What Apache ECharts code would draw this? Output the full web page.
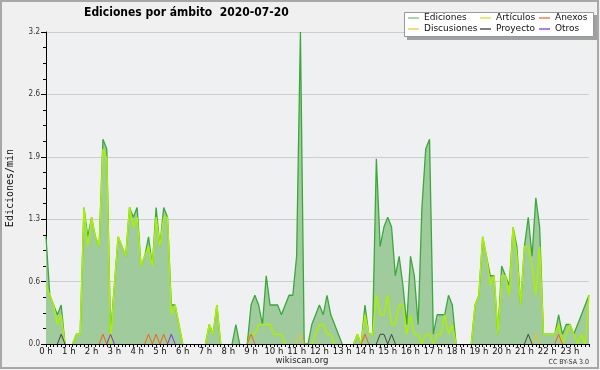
<!DOCTYPE html>
<html>
<head>
<meta charset="utf-8">
<script src="https://cdn.jsdelivr.net/npm/echarts@6/dist/echarts.min.js"></script>
<style>
html,body{margin:0;padding:0;background:#f0f0f0;}
#chart{width:600px;height:370px;}
</style>
</head>
<body>
<div id="chart"></div>
<script>
// ---- data (editions per minute, 10-minute bins, 2020-07-20) ----
const hourLabels = ['0 h','1 h','2 h','3 h','4 h','5 h','6 h','7 h','8 h','9 h','10 h','11 h',
  '12 h','13 h','14 h','15 h','16 h','17 h','18 h','19 h','20 h','21 h','22 h','23 h'];
const minuteLabels = ['00','10','20','30','40','50'];
const yTickLabels = ['0.0','0.6','1.3','1.9','2.6','3.2'];

const ediciones = [
  1.1,0.5,0.4,0.3,0.4,0,   0,0,0.1,0.1,1.4,1.1,   1.3,1.1,1.0,2.1,2.0,0.1,
  0.6,1.1,1.0,0.9,1.4,1.3, 1.4,0.8,0.9,1.1,0.8,1.4, 1.0,1.4,1.3,0.4,0.4,0.2,
  0,0,0,0,0,0,             0,0.2,0.1,0.4,0,0,      0,0,0.2,0,0,0,
  0.4,0.5,0.4,0.2,0.7,0.4, 0.4,0.4,0.3,0.4,0.5,0.5, 0.9,3.2,0,0,0.2,0.3,
  0.4,0.3,0.5,0.3,0.2,0.1, 0,0,0,0,0.1,0,          0.4,0.1,0.1,1.9,1.0,1.2,
  1.3,1.2,0.7,0.9,0.6,0.2, 0.9,0.7,0.2,1.4,2.0,2.1, 0.1,0.3,0.3,0.3,0.5,0.4,
  0,0,0,0,0,0.4,           0.5,1.1,0.9,0.7,0.7,0.1, 0.8,0.7,0.6,1.2,1.0,0.4,
  1.0,1.3,0.9,1.5,1.2,0.1, 0.1,0.1,0.1,0.3,0.1,0.2, 0.2,0.1,0.2,0.3,0.4,0.5
];
const articulos = [
  0.6,0.5,0.4,0.2,0.3,0,   0,0,0.1,0.1,1.4,1.0,   1.3,1.1,1.0,2.0,1.9,0,
  0.6,1.1,1.0,0.9,1.4,1.2, 1.3,0.8,0.9,1.0,0.8,1.3, 1.0,1.3,1.3,0.3,0.4,0.2,
  0,0,0,0,0,0,             0,0.2,0.1,0.4,0,0,      0,0,0,0,0,0,
  0.1,0.1,0.2,0.2,0.2,0.2, 0.1,0.1,0.1,0,0,0,      0,0,0,0,0,0.1,
  0.2,0.2,0.1,0.1,0,0,     0,0,0,0,0.1,0,          0.3,0.1,0.1,0.5,0.3,0.3,
  0.5,0.2,0.2,0.4,0.4,0.1, 0.3,0.1,0.1,0,0.1,0.1,  0,0.1,0.1,0.3,0.1,0.2,
  0,0,0,0,0,0.4,           0.5,1.1,0.9,0.6,0.7,0.1, 0.7,0.7,0.5,1.2,0.9,0.4,
  1.0,1.0,0.8,0.5,1.0,0.1, 0.1,0.1,0.1,0.2,0,0.1,  0.2,0.1,0,0.1,0,0.5
];
const anexos = [
  0,0,0,0,0,0, 0,0,0,0,0,0, 0,0,0,0.1,0,0,
  0,0,0,0,0,0, 0,0,0,0.1,0,0.1, 0,0.1,0,0,0,0,
  0,0,0,0,0,0, 0,0,0,0,0,0, 0,0,0,0,0,0,
  0.1,0,0,0,0,0, 0,0,0,0,0,0, 0,0,0,0,0,0,
  0,0,0,0,0,0, 0,0,0,0,0,0, 0.1,0,0,0,0,0,
  0,0,0,0,0,0, 0,0,0,0,0,0, 0,0,0,0,0,0,
  0,0,0,0,0,0, 0,0,0,0,0,0, 0,0,0,0,0,0,
  0,0,0,0,0,0, 0,0,0,0.1,0,0, 0,0,0,0,0,0
];
const discusiones = [
  0,0,0,0,0,0, 0,0,0,0,0,0, 0,0,0,0,0,0,
  0,0,0,0,0,0, 0,0,0,0,0,0, 0,0,0,0,0,0,
  0,0,0,0,0,0, 0,0,0,0,0,0, 0,0,0,0,0,0,
  0,0,0,0,0,0, 0,0,0,0,0,0, 0,0.1,0,0,0,0,
  0,0,0,0,0,0, 0,0,0,0,0,0, 0,0,0,0,0,0,
  0,0,0,0,0,0, 0,0,0,0,0,0, 0,0,0,0,0,0,
  0,0,0,0,0,0, 0,0,0,0,0,0, 0,0,0,0,0,0,
  0,0,0,0.1,0,0, 0,0,0,0,0,0, 0,0,0,0,0,0
];
const proyecto = [
  0,0,0,0,0.1,0, 0,0,0,0,0,0, 0,0,0,0,0,0,
  0,0,0,0,0,0, 0,0,0,0,0,0, 0,0,0,0,0,0,
  0,0,0,0,0,0, 0,0,0,0,0,0, 0,0,0,0,0,0,
  0,0,0,0,0,0, 0,0,0,0,0,0, 0,0,0,0,0,0,
  0,0,0,0,0,0, 0,0,0,0,0,0, 0,0,0,0,0.1,0.1,
  0,0.1,0,0,0,0, 0,0,0,0,0,0, 0,0,0,0,0,0,
  0,0,0,0,0,0, 0,0,0,0,0,0, 0,0,0,0,0,0,
  0,0.1,0,0,0,0, 0,0,0,0,0,0, 0,0,0,0,0,0
];
const otros = [
  0,0,0,0,0,0, 0,0,0,0,0,0, 0,0,0,0,0,0.1,
  0,0,0,0,0,0, 0,0,0,0,0,0, 0,0,0,0.1,0,0,
  0,0,0,0,0,0, 0,0,0,0,0,0, 0,0,0,0,0,0,
  0,0,0,0,0,0, 0,0,0,0,0,0, 0,0,0,0,0,0,
  0,0,0,0,0,0, 0,0,0,0,0,0, 0,0,0,0,0,0,
  0,0,0,0,0,0, 0,0,0,0,0,0, 0,0,0,0,0,0,
  0,0,0,0,0,0, 0,0,0,0,0,0, 0,0,0,0,0,0,
  0,0,0,0,0,0, 0,0,0,0,0,0, 0,0,0,0,0,0
];

// ---- build ----
const categories = [];
hourLabels.forEach(h => minuteLabels.forEach(m => categories.push(h.replace(' h','') + ':' + m)));

// hide flat runs lying on the baseline (keep the zero ends of each peak)
function trimZeros(arr) {
  return arr.map((v, i) => {
    if (v !== 0) return v;
    const p = i > 0 ? arr[i - 1] : 0, n = i < arr.length - 1 ? arr[i + 1] : 0;
    return (p !== 0 || n !== 0) ? 0 : null;
  });
}

const FONT = "'DejaVu Sans Condensed','DejaVu Sans',sans-serif";
const chart = echarts.init(document.getElementById('chart'), null, {renderer: 'canvas'});

function lineSeries(name, data, color, width, z) {
  return {
    name: name, type: 'line', data: trimZeros(data), symbol: 'none', z: z,
    lineStyle: {color: color, width: width}, itemStyle: {color: color},
    connectNulls: false, animation: false
  };
}

const sE = lineSeries('Ediciones', ediciones, '#3aa83a', 1.3, 2);
sE.areaStyle = {color: '#a0cb9d', opacity: 1};
const series = [
  sE,
  lineSeries('Artículos', articulos, '#aaf000', 1.5, 3),
  lineSeries('Anexos', anexos, '#f06020', 1, 4),
  lineSeries('Discusiones', discusiones, '#f0c020', 1, 4),
  lineSeries('Proyecto', proyecto, '#444444', 1, 4),
  lineSeries('Otros', otros, '#8a2be2', 1, 4)
];

function legend(left, names, colors) {
  return {
    left: left, top: 13, orient: 'vertical', padding: 0, itemGap: 1,
    itemWidth: 11, itemHeight: 1.5, icon: 'rect', selectedMode: false,
    data: names.map((n, i) => ({name: n, itemStyle: {color: colors[i]}})),
    textStyle: {fontFamily: "'DejaVu Sans',sans-serif", fontSize: 9, color: '#111', lineHeight: 10, padding: [0,0,0,0]},
    itemStyle: {borderWidth: 0}, z: 20
  };
}

chart.setOption({
  backgroundColor: '#f0f0f0',
  animation: false,
  title: {
    text: 'Ediciones por ámbito  2020-07-20', left: 84, top: 7, padding: 0,
    textStyle: {fontFamily: FONT, fontSize: 12, fontWeight: 'bold', color: '#000'}
  },
  legend: [
    legend(408, ['Ediciones', 'Discusiones'], ['#88cc88', '#f5d050']),
    legend(480, ['Artículos', 'Proyecto'], ['#c8f040', '#555555']),
    legend(539, ['Anexos', 'Otros'], ['#f08050', '#9050f0'])
  ],
  grid: {left: 46, right: 11, top: 32, bottom: 26, show: true, backgroundColor: '#eff0f2', borderWidth: 0,
         containLabel: false, outerBoundsMode: 'none'},
  xAxis: {
    type: 'category', data: categories, boundaryGap: false, z: 10,
    axisLine: {lineStyle: {color: '#000', width: 1}},
    axisTick: {interval: 0, length: 3, lineStyle: {color: '#000'}},
    axisLabel: {
      interval: function (idx) { return idx % 6 === 0; },
      formatter: function (v, idx) { return hourLabels[Math.floor(idx / 6)]; },
      fontFamily: "'DejaVu Sans',sans-serif", fontSize: 8.5, color: '#111', margin: 3
    },
    splitLine: {show: false}
  },
  yAxis: {
    type: 'value', min: 0, max: 3.2, interval: 0.64,
    name: 'Ediciones/min', nameLocation: 'middle', nameRotate: 90, nameGap: 31,
    nameTextStyle: {fontFamily: "'DejaVu Sans Mono',monospace", fontSize: 10, color: '#111'},
    axisLine: {show: true, lineStyle: {color: '#000', width: 1}},
    axisTick: {show: true, length: 5, lineStyle: {color: '#000'}},
    minorTick: {show: true, splitNumber: 4, length: 3, lineStyle: {color: '#000'}},
    axisLabel: {
      formatter: function (v) { return yTickLabels[Math.round(v / 0.64)]; },
      fontFamily: FONT, fontSize: 8, color: '#333', margin: 6
    },
    splitLine: {show: true, lineStyle: {color: '#cccccc', width: 1}}
  },
  graphic: [
    {type: 'rect', shape: {x: 1, y: 1, width: 597, height: 367}, style: {fill: null, stroke: '#a8a8a8', lineWidth: 2}, z: 100},
    {type: 'rect', shape: {x: 407, y: 15, width: 190, height: 25}, style: {fill: '#a0a0a0'}, z: 15},
    {type: 'rect', shape: {x: 404.5, y: 12.5, width: 189, height: 24}, style: {fill: '#ffffff', stroke: '#999999', lineWidth: 1}, z: 16},
    {type: 'text', x: 302, y: 361, style: {text: 'wikiscan.org', fontFamily: "'DejaVu Sans',sans-serif", fontSize: 8.5, fill: '#222', align: 'center', verticalAlign: 'middle'}, z: 20},
    {type: 'text', x: 589, y: 362, style: {text: 'CC BY-SA 3.0', fontFamily: FONT, fontSize: 7, fill: '#333', align: 'right', verticalAlign: 'middle'}, z: 20}
  ],
  series: series
});
</script>
</body>
</html>
